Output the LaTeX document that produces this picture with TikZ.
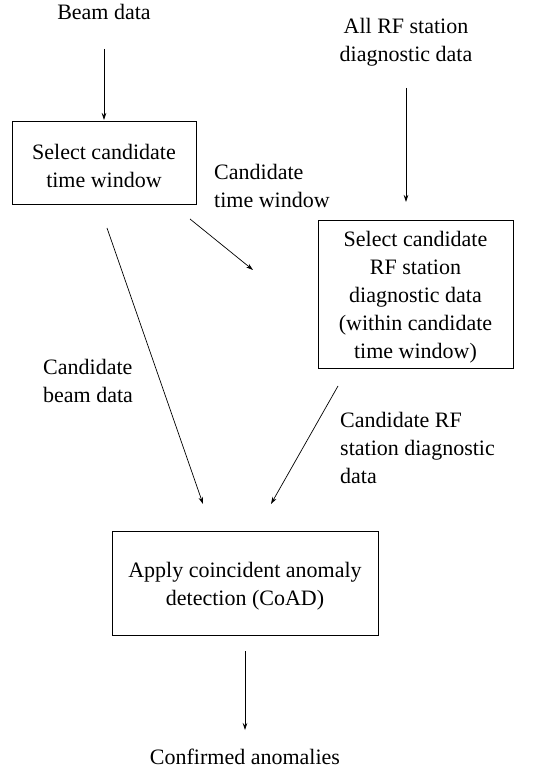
\documentclass[tikz,border=0pt]{standalone}
\usepackage{fontspec}
\setmainfont{Liberation Serif}
\newfontfamily\diagfont{Liberation Serif}
\usetikzlibrary{arrows.meta}
\begin{document}
\begin{tikzpicture}[x=1pt,y=-1pt,
  every node/.style={font=\diagfont\fontsize{22}{28}\selectfont, inner sep=0pt},
  procbox/.style={draw, line width=0.9pt, align=center},
  lbl/.style={align=left, anchor=north west},
  arr/.style={line width=0.7pt, -{Stealth[length=7pt,width=4.5pt]}}]
\useasboundingbox (0,0) rectangle (546,775);
% nodes
\node (beam) at (104,12) {Beam data};
\node[align=center] (allrf) at (406,42) {All RF station\\diagnostic data};
\node[procbox, minimum width=184pt, minimum height=83pt] (sel1) at (104,162.5) {};
\node[align=center] (sel1t) at (104,166) {Select candidate\\time window};
\node[procbox, minimum width=195pt, minimum height=148pt] (sel2) at (415.5,294) {};
\node[align=center] (sel2t) at (415.5,297) {Select candidate\\RF station\\diagnostic data\\(within candidate\\time window)};
\node[procbox, minimum width=266pt, minimum height=104pt] (coad) at (245,583) {};
\node[align=center] (coadt) at (245,586) {Apply coincident anomaly\\detection (CoAD)};
\node (conf) at (245,757) {Confirmed anomalies};
\node[lbl] (lwin) at (214,164) {Candidate\\time window};
\node[lbl] (lbeam) at (43,359) {Candidate\\beam data};
\node[lbl] (lrf) at (340,412) {Candidate RF\\station diagnostic\\data};
% connector end points
\coordinate (b1) at (104,49);
\coordinate (b2) at (104,120);
\coordinate (r1) at (406,88);
\coordinate (r2) at (406,202);
\coordinate (w1) at (190,219);
\coordinate (w2) at (253,270);
\coordinate (cb1) at (107,228);
\coordinate (cb2) at (203,504);
\coordinate (cr1) at (338,386);
\coordinate (cr2) at (271,504);
\coordinate (o1) at (245,651);
\coordinate (o2) at (245,730);
% connectors
\draw[arr] (b1) -- (b2);
\draw[arr] (r1) -- (r2);
\draw[arr] (w1) -- (w2);
\draw[arr] (cb1) -- (cb2);
\draw[arr] (cr1) -- (cr2);
\draw[arr] (o1) -- (o2);
\end{tikzpicture}
\end{document}
